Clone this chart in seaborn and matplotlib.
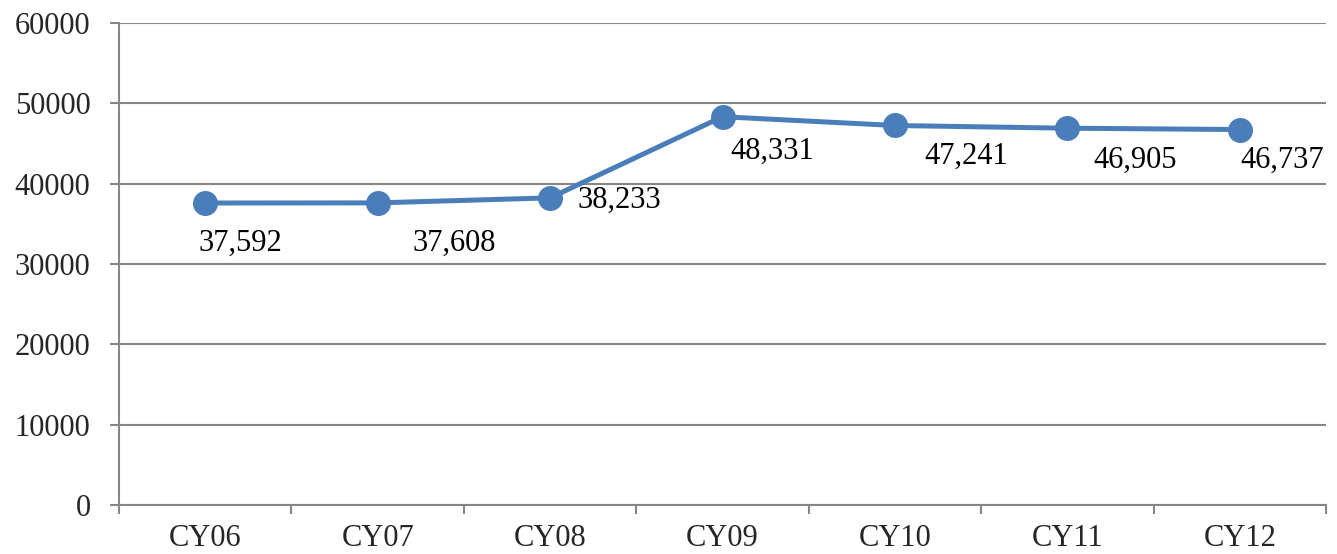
import seaborn as sns
import matplotlib.pyplot as plt
import pandas as pd
import numpy as np

# Dane z wykresu
years = ["CY06", "CY07", "CY08", "CY09", "CY10", "CY11", "CY12"]
counts = [37592, 37608, 38233, 48331, 47241, 46905, 46737]
y_ticks = [0, 10000, 20000, 30000, 40000, 50000, 60000]

# przesuniecia etykiet (piksele) - tylko wyglad
label_offsets = [(-7, -40), (35, -40), (27, -2), (8, -35), (29, -31), (26, -32), (1, -31)]

sns.set_style("white")
plt.rcParams['font.family'] = ['Liberation Serif', 'DejaVu Serif']

df = pd.DataFrame({"year": years, "count": counts})

fig = plt.figure(figsize=(13.37, 5.54), dpi=100)
ax = fig.add_axes([0.089, 0.0884, 0.9028, 0.8701])

blue = "#4A7EBB"
grey = "#868686"

sns.lineplot(data=df, x="year", y="count", ax=ax, color=blue, linewidth=3.6,
             marker="o", markersize=18, markeredgewidth=0, zorder=3)

for i, (val, off) in enumerate(zip(counts, label_offsets)):
    ax.annotate(f"{val:,}", (i, val), xytext=off, textcoords="offset pixels",
                ha="left", va="center", fontsize=22, color="black")

ax.set_xlim(-0.5, len(years) - 0.5)
ax.set_ylim(0, 60000)
ax.set_yticks(y_ticks)
ax.set_yticklabels([str(t) for t in y_ticks])
ax.set_xticks(np.arange(len(years)))
ax.set_xticklabels(years)
ax.set_xticks(np.arange(len(years) + 1) - 0.5, minor=True)

ax.yaxis.grid(True, color=grey, linewidth=1.5)
ax.set_axisbelow(True)
ax.set_xlabel("")
ax.set_ylabel("")

for s in ["top", "right"]:
    ax.spines[s].set_visible(False)
for s in ["left", "bottom"]:
    ax.spines[s].set_color(grey)
    ax.spines[s].set_linewidth(1.5)

ax.tick_params(axis="y", length=6.5, width=1.5, color=grey, pad=14, labelsize=22, left=True)
ax.tick_params(axis="x", which="major", length=0, pad=14, labelsize=22)
ax.tick_params(axis="x", which="minor", length=6.5, width=1.5, color=grey, bottom=True)

fig.savefig("out.png", dpi=100)
